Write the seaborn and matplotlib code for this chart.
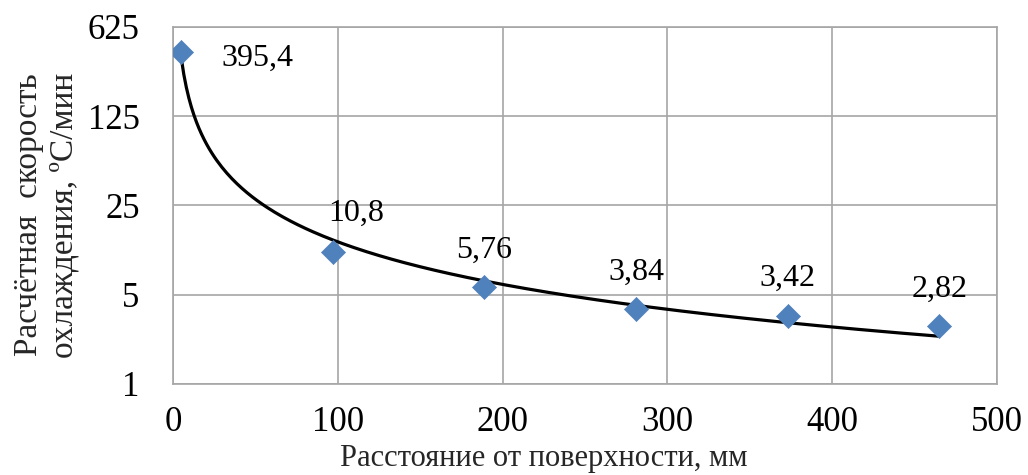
import numpy as np
import pandas as pd
import matplotlib
matplotlib.use("Agg")
import matplotlib.pyplot as plt
from matplotlib.ticker import FixedLocator, NullLocator
import seaborn as sns

# Distance from the surface, mm, and calculated cooling rate, °C/min
distance_mm = [5, 97, 189, 281, 373, 465]
cooling_rate = [395.4, 10.8, 5.76, 3.84, 3.42, 2.82]
rate_labels = ["395,4", "10,8", "5,76", "3,84", "3,42", "2,82"]

x_ticks = [0, 100, 200, 300, 400, 500]
y_ticks = [1, 5, 25, 125, 625]

sns.set_theme(style="white")
plt.rcParams["font.family"] = ["Liberation Serif", "DejaVu Serif"]

df = pd.DataFrame({"x": distance_mm, "y": cooling_rate})

# Power trend line y = a * x^b fitted in log-log space
b, ln_a = np.polyfit(np.log(df["x"]), np.log(df["y"]), 1)
xf = np.linspace(min(distance_mm), max(distance_mm), 300)
trend = pd.DataFrame({"x": xf, "y": np.exp(ln_a) * xf ** b})

fig = plt.figure(figsize=(10.28, 4.75), dpi=100)
ax = fig.add_axes([0.1683, 0.1916, 0.8015, 0.7516])

grid_c = "#A6A6A6"
ax.set_yscale("log", base=5)
ax.set_xlim(0, 500)
ax.set_ylim(1, 625)

ax.xaxis.set_major_locator(FixedLocator(x_ticks))
ax.yaxis.set_major_locator(FixedLocator(y_ticks))
ax.yaxis.set_minor_locator(NullLocator())
ax.set_yticklabels([str(v) for v in y_ticks])
ax.grid(True, color=grid_c, linewidth=1.2)
ax.set_axisbelow(True)
for s in ax.spines.values():
    s.set_color(grid_c)
    s.set_linewidth(1.2)

ax.tick_params(axis="both", which="major", direction="out", length=7,
               width=1.2, color=grid_c, labelsize=25, labelcolor="black")
ax.tick_params(axis="y", pad=17)
ax.tick_params(axis="x", pad=9)

sns.lineplot(data=trend, x="x", y="y", ax=ax, color="black", linewidth=2.3,
             zorder=3)
sns.scatterplot(data=df, x="x", y="y", ax=ax, marker="D", s=150,
                color="#4F81BD", edgecolor="#4F81BD", linewidth=0.5, zorder=4)

label_offsets = [(29, -4), (17, 28), (0, 26), (0, 27), (0, 27), (0, 27)]
for xv, yv, lab, off in zip(distance_mm, cooling_rate, rate_labels, label_offsets):
    ha = "left" if off == label_offsets[0] else "center"
    ax.annotate(lab, (xv, yv), xytext=off, textcoords="offset points",
                ha=ha, va="center", fontsize=23, color="black", zorder=5)

ax.set_xlabel("Расстояние от поверхности, мм", fontsize=22)
ax.xaxis.set_label_coords(0.45, -0.168)
ax.set_ylabel("Расчётная  скорость\nохлаждения, ºС/мин", fontsize=24,
              linespacing=1.2)
ax.yaxis.set_label_coords(-0.114, 0.473)

fig.savefig("out.png", dpi=100)
